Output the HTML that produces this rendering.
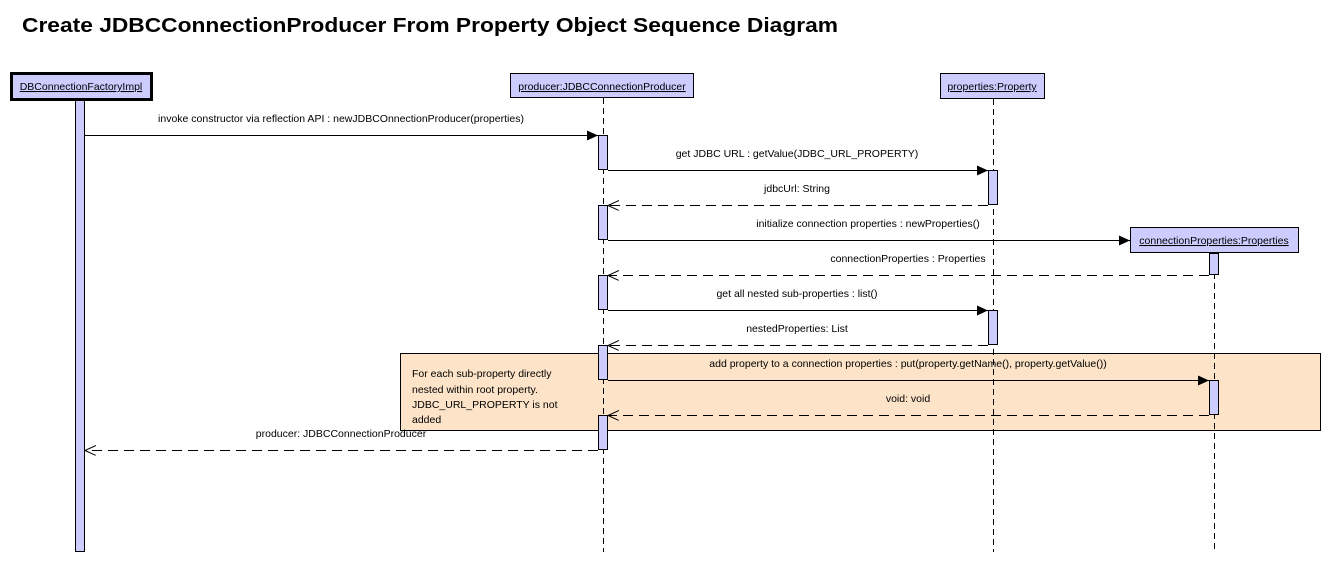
<!DOCTYPE html>
<html><head><meta charset="utf-8"><style>
html,body{margin:0;padding:0;background:#fff;width:1330px;height:563px;overflow:hidden}
svg text{font-family:"Liberation Sans",Arial,sans-serif;font-size:10.5px;fill:#000}
</style></head><body>
<svg width="1330" height="563" viewBox="0 0 1330 563" xmlns="http://www.w3.org/2000/svg">
<defs>
<marker id="f" markerWidth="12" markerHeight="12" refX="11" refY="5" orient="auto" markerUnits="userSpaceOnUse"><path d="M0,0 L11,5 L0,10 z" fill="#000"/></marker>
<marker id="o" markerWidth="12" markerHeight="12" refX="11" refY="5" orient="auto" markerUnits="userSpaceOnUse"><path d="M0,0 L11,5 L0,10" fill="none" stroke="#000" stroke-width="1"/></marker>
</defs>
<text x="22" y="32" style="font-size:20px;font-weight:bold" textLength="816" lengthAdjust="spacingAndGlyphs">Create JDBCConnectionProducer From Property Object Sequence Diagram</text>

<!-- note -->
<rect x="400.5" y="353.5" width="920" height="77" fill="#fde4c8" stroke="#000"/>
<text x="412" y="377">For each sub-property directly</text>
<text x="412" y="393">nested within root property.</text>
<text x="412" y="408">JDBC_URL_PROPERTY is not</text>
<text x="412" y="423"> added</text>

<!-- lifelines -->
<g stroke="#000" stroke-dasharray="6,4">
<line x1="603.5" y1="98" x2="603.5" y2="552"/>
<line x1="993.5" y1="99" x2="993.5" y2="552"/>
<line x1="1214.5" y1="253" x2="1214.5" y2="552"/>
</g>

<!-- heads -->
<rect x="11.5" y="73.5" width="140" height="26" fill="#ccccff" stroke="#000" stroke-width="3"/>
<text x="81" y="90" text-anchor="middle" text-decoration="underline">DBConnectionFactoryImpl</text>
<rect x="510.5" y="73.5" width="183" height="24" fill="#ccccff" stroke="#000"/>
<text x="602" y="90" text-anchor="middle" text-decoration="underline">producer:JDBCConnectionProducer</text>
<rect x="940.5" y="73.5" width="104" height="25" fill="#ccccff" stroke="#000"/>
<text x="992" y="90" text-anchor="middle" text-decoration="underline">properties:Property</text>
<rect x="1130.5" y="227.5" width="168" height="25" fill="#ccccff" stroke="#000"/>
<text x="1214" y="244" text-anchor="middle" text-decoration="underline">connectionProperties:Properties</text>

<!-- activations -->
<g fill="#ccccff" stroke="#000">
<rect x="75.5" y="100.5" width="9" height="451"/>
<rect x="598.5" y="135.5" width="9" height="34"/>
<rect x="598.5" y="205.5" width="9" height="34"/>
<rect x="598.5" y="275.5" width="9" height="34"/>
<rect x="598.5" y="345.5" width="9" height="34"/>
<rect x="598.5" y="415.5" width="9" height="34"/>
<rect x="988.5" y="170.5" width="9" height="34"/>
<rect x="988.5" y="310.5" width="9" height="34"/>
<rect x="1209.5" y="253.5" width="9" height="21"/>
<rect x="1209.5" y="380.5" width="9" height="34"/>
</g>

<!-- messages -->
<g stroke="#000" fill="none">
<line x1="85" y1="135.5" x2="598" y2="135.5" marker-end="url(#f)"/>
<line x1="608" y1="170.5" x2="988" y2="170.5" marker-end="url(#f)"/>
<line x1="988" y1="205.5" x2="608" y2="205.5" stroke-dasharray="10,6" marker-end="url(#o)"/>
<line x1="608" y1="240.5" x2="1130" y2="240.5" marker-end="url(#f)"/>
<line x1="1209" y1="275.5" x2="608" y2="275.5" stroke-dasharray="10,6" marker-end="url(#o)"/>
<line x1="608" y1="310.5" x2="988" y2="310.5" marker-end="url(#f)"/>
<line x1="988" y1="345.5" x2="608" y2="345.5" stroke-dasharray="10,6" marker-end="url(#o)"/>
<line x1="608" y1="380.5" x2="1209" y2="380.5" marker-end="url(#f)"/>
<line x1="1209" y1="415.5" x2="608" y2="415.5" stroke-dasharray="10,6" marker-end="url(#o)"/>
<line x1="598" y1="450.5" x2="85" y2="450.5" stroke-dasharray="10,6" marker-end="url(#o)"/>
</g>
<g text-anchor="middle">
<text x="341" y="122">invoke constructor via reflection API : newJDBCOnnectionProducer(properties)</text>
<text x="797" y="157">get JDBC URL : getValue(JDBC_URL_PROPERTY)</text>
<text x="797" y="192">jdbcUrl: String</text>
<text x="868" y="227">initialize connection properties : newProperties()</text>
<text x="908" y="262">connectionProperties : Properties</text>
<text x="797" y="297">get all nested sub-properties : list()</text>
<text x="797" y="332">nestedProperties: List</text>
<text x="908" y="367">add property to a connection properties : put(property.getName(), property.getValue())</text>
<text x="908" y="402">void: void</text>
<text x="341" y="437">producer: JDBCConnectionProducer</text>
</g>
</svg>
</body></html>
